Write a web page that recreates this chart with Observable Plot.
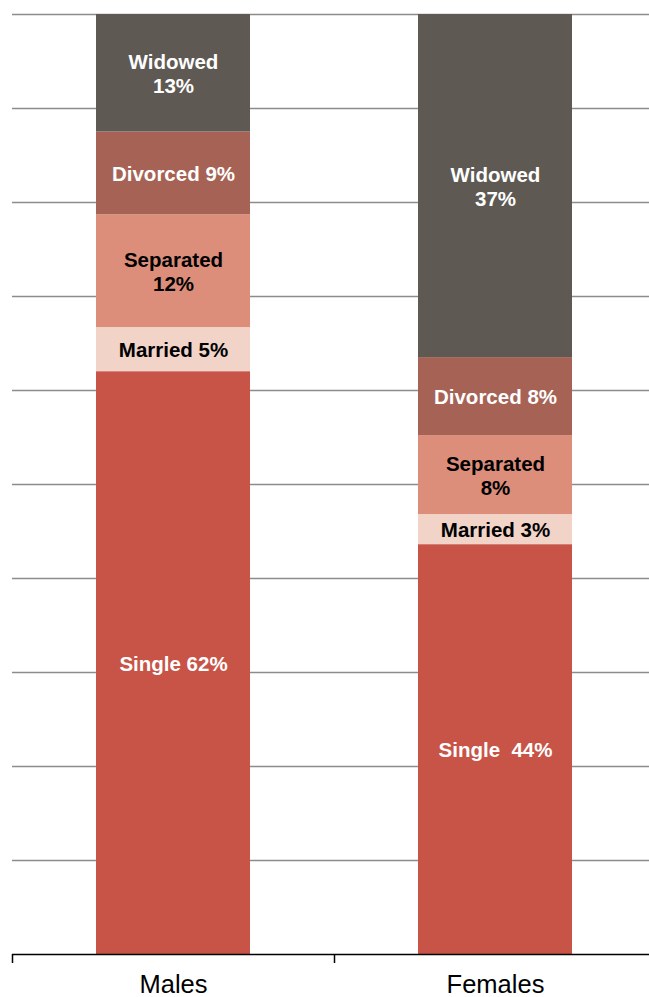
<!DOCTYPE html>
<html>
<head>
<meta charset="utf-8">
<script src="https://cdn.jsdelivr.net/npm/d3@7"></script>
<script src="https://cdn.jsdelivr.net/npm/@observablehq/plot@0.6"></script>
<style>
  html, body { margin: 0; padding: 0; background: #fff; }
  #chart svg { display: block; font-family: "Liberation Sans", Arial, sans-serif; }
</style>
</head>
<body>
<div id="chart"></div>
<script>
const sexes = ["Males", "Females"];
const statuses = ["Single", "Married", "Separated", "Divorced", "Widowed"];
const malesPct = [62.0, 4.7, 12.0, 8.8, 12.5];
const femalesPct = [43.6, 3.2, 8.4, 8.3, 36.5];
const malesLabels = ["Single 62%", "Married 5%", "Separated\n12%", "Divorced 9%", "Widowed\n13%"];
const femalesLabels = ["Single\u00A0 44%", "Married 3%", "Separated\n8%", "Divorced 8%", "Widowed\n37%"];
const statusColors = ["#C85347", "#F1D3C8", "#DC8E7B", "#A66355", "#5E5952"];
const labelColors = ["#ffffff", "#000000", "#000000", "#ffffff", "#ffffff"];
const gridValues = [10, 20, 30, 40, 50, 60, 70, 80, 90, 100];

const rows = [];
sexes.forEach((sex, si) => {
  const vals = si === 0 ? malesPct : femalesPct;
  const labs = si === 0 ? malesLabels : femalesLabels;
  statuses.forEach((status, i) => {
    rows.push({sex, status, value: vals[i], label: labs[i], labelColor: labelColors[i]});
  });
});

const chart = Plot.plot({
  width: 649,
  height: 997,
  marginTop: 14,
  marginBottom: 43,
  marginLeft: 12,
  marginRight: -7,
  style: {fontFamily: "'Liberation Sans', Arial, sans-serif", background: "white"},
  x: {domain: sexes, range: [12, 656], padding: 0, axis: null},
  y: {domain: [0, 100], axis: null},
  color: {domain: statuses, range: statusColors},
  marks: [
    Plot.ruleY(gridValues, {stroke: "#8c8c8c", strokeWidth: 1.5}),
    Plot.barY(rows, {x: "sex", y: "value", fill: "status", insetLeft: 84, insetRight: 84}),
    Plot.text(rows, Plot.stackY({
      x: "sex", y: "value", text: "label", fill: "labelColor",
      fontSize: 20.5, fontWeight: "bold", lineHeight: 1.2
    })),
    Plot.ruleY([0], {stroke: "#000", strokeWidth: 1.5}),
    Plot.axisX({ticks: sexes, tickSize: 9, tickFormat: () => "", label: null, dx: -161, stroke: "#000", strokeWidth: 1.5}),
    Plot.axisX({ticks: sexes, tickSize: 0, tickPadding: 20, fontSize: 25.5, fill: "#000", label: null})
  ]
});
document.getElementById("chart").appendChild(chart);
</script>
</body>
</html>
